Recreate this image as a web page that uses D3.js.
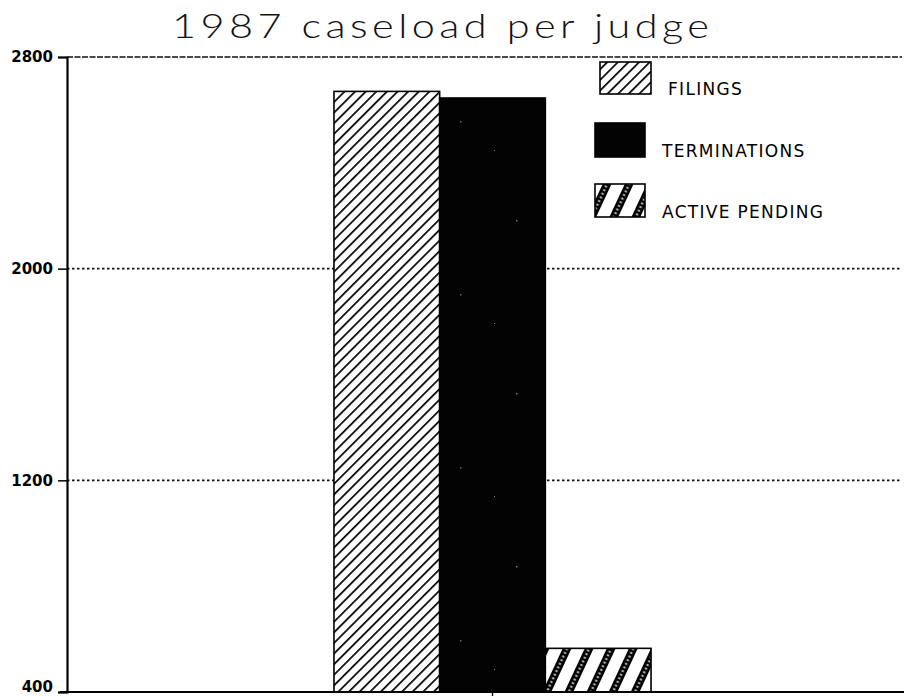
<!DOCTYPE html>
<html>
<head>
<meta charset="utf-8">
<script src="https://cdn.jsdelivr.net/npm/d3@7"></script>
<style>
  html, body { margin: 0; padding: 0; background: #fff; }
  svg { display: block; }
</style>
</head>
<body>
<svg id="chart" width="904" height="696"></svg>
<script>
// ---- data ----
const title = "1987 caseload per judge";
const categories = ["1987"];
const seriesNames = ["FILINGS", "TERMINATIONS", "ACTIVE PENDING"];
const filings = [2670];
const terminations = [2645];
const activePending = [565];
const yTicks = [400, 1200, 2000, 2800];

const seriesValues = [filings, terminations, activePending];

// ---- layout ----
const svg = d3.select("#chart");
const defs = svg.append("defs");

// patterns
const p1 = defs.append("pattern").attr("id", "hatchFine")
  .attr("patternUnits", "userSpaceOnUse").attr("width", 7.5).attr("height", 7.5)
  .attr("patternTransform", "rotate(45)");
p1.append("rect").attr("width", 7.5).attr("height", 7.5).attr("fill", "#fff");
p1.append("line").attr("x1", 0).attr("y1", 0).attr("x2", 0).attr("y2", 7.5)
  .attr("stroke", "#000").attr("stroke-width", 3.4);

const p2 = defs.append("pattern").attr("id", "solidSpeck")
  .attr("patternUnits", "userSpaceOnUse").attr("width", 97).attr("height", 173);
p2.append("rect").attr("width", 97).attr("height", 173).attr("fill", "#030303");
p2.append("rect").attr("x", 31).attr("y", 47).attr("width", 1.5).attr("height", 1.5).attr("fill", "#777");
p2.append("rect").attr("x", 72).attr("y", 121).attr("width", 1.5).attr("height", 1.5).attr("fill", "#666");
p2.append("rect").attr("x", 9).attr("y", 150).attr("width", 1).attr("height", 1).attr("fill", "#888");

const p3 = defs.append("pattern").attr("id", "hatchWide")
  .attr("patternUnits", "userSpaceOnUse").attr("width", 20).attr("height", 40)
  .attr("patternTransform", "rotate(25)");
p3.append("rect").attr("width", 20).attr("height", 40).attr("fill", "#fff");
p3.append("rect").attr("x", 4).attr("y", 0).attr("width", 8).attr("height", 40).attr("fill", "#000");
p3.append("line").attr("x1", 8).attr("y1", 0).attr("x2", 8).attr("y2", 40)
  .attr("stroke", "#aaa").attr("stroke-width", 2.5).attr("stroke-dasharray", "2,2");

const fills = ["url(#hatchFine)", "url(#solidSpeck)", "url(#hatchWide)"];

// scales
const y = d3.scaleLinear().domain([400, 2800]).range([692, 57]);
const x0 = d3.scaleBand().domain(categories).range([67, 918]).paddingInner(0).paddingOuter(0.842);
const x1 = d3.scaleBand().domain(seriesNames).range([0, x0.bandwidth()]).padding(0);

// title (glyphs widened horizontally to match the wide geometric face)
const sx = 1.22;
svg.append("text")
  .attr("transform", `translate(172,38) scale(${sx},1)`)
  .attr("x", 0).attr("y", 0)
  .attr("textLength", 537 / sx).attr("lengthAdjust", "spacing")
  .attr("font-family", "Lato").attr("font-weight", 300)
  .attr("font-size", 34).attr("fill", "#111")
  .text(title);

// gridlines
svg.append("g").selectAll("line").data(yTicks.filter(d => d !== 400)).join("line")
  .attr("x1", 67).attr("x2", 902)
  .attr("y1", d => y(d)).attr("y2", d => y(d))
  .attr("stroke", "#111")
  .attr("stroke-width", d => d === 2800 ? 1.3 : 1.8)
  .attr("stroke-dasharray", d => d === 2800 ? "6,1.5" : "2.5,2.5");

// bars
const g = svg.append("g");
categories.forEach((cat, ci) => {
  seriesNames.forEach((s, si) => {
    const v = seriesValues[si][ci];
    g.append("rect")
      .attr("x", x0(cat) + x1(s))
      .attr("y", y(v))
      .attr("width", x1.bandwidth())
      .attr("height", y(400) - y(v))
      .attr("fill", fills[si])
      .attr("stroke", "#000").attr("stroke-width", 1.6);
  });
});

// y axis
const yAxis = d3.axisLeft(y).tickValues(yTicks).tickSize(9).tickPadding(5).tickFormat(d3.format("d"));
const ya = svg.append("g").attr("transform", "translate(67,0)").call(yAxis);
ya.select(".domain").attr("stroke", "#000").attr("stroke-width", 2.2);
ya.selectAll(".tick line").attr("stroke", "#000").attr("stroke-width", 1.5);
ya.selectAll(".tick text")
  .attr("font-family", "DejaVu Sans").attr("font-weight", "bold")
  .attr("font-size", 15).attr("fill", "#000")
  .attr("dy", d => d === 400 ? "-0.05em" : "0.32em");

// x axis (bottom)
const xAxis = d3.axisBottom(x0).tickSize(6).tickFormat("");
const xa = svg.append("g").attr("transform", "translate(0,692)").call(xAxis);
xa.select(".domain").remove();
xa.append("line").attr("x1", 60).attr("x2", 904).attr("y1", 0).attr("y2", 0)
  .attr("stroke", "#000").attr("stroke-width", 2);
xa.selectAll(".tick line").attr("stroke", "#000").attr("stroke-width", 1.3);

// legend
const legendItems = [
  { name: seriesNames[0], sx: 600, sy: 62, sw: 51, sh: 32, tx: 668, ty: 95 },
  { name: seriesNames[1], sx: 595, sy: 123, sw: 50, sh: 34, tx: 662, ty: 157 },
  { name: seriesNames[2], sx: 595, sy: 184, sw: 50, sh: 33, tx: 662, ty: 218 }
];
const lg = svg.append("g");
legendItems.forEach((d, i) => {
  lg.append("rect").attr("x", d.sx).attr("y", d.sy).attr("width", d.sw).attr("height", d.sh)
    .attr("fill", fills[i]).attr("stroke", "#000").attr("stroke-width", 1.6);
  lg.append("text").attr("x", d.tx).attr("y", d.ty)
    .attr("font-family", "DejaVu Sans").attr("font-size", 17)
    .attr("letter-spacing", 1.3).attr("fill", "#000")
    .text(d.name);
});
</script>
</body>
</html>
